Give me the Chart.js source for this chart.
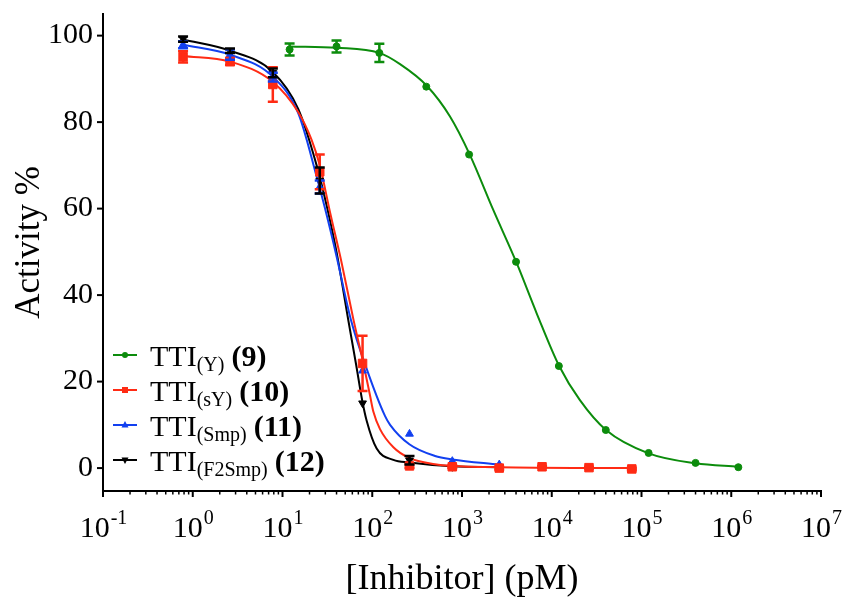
<!DOCTYPE html>
<html>
<head>
<meta charset="utf-8">
<script src="https://cdn.jsdelivr.net/npm/chart.js@4.4.1/dist/chart.umd.min.js"></script>
<style>
    html, body { margin: 0; padding: 0; background: #fff; }
    #wrap { width: 842px; height: 599px; position: relative; }
</style>
</head>
<body>
<div id="wrap"><canvas id="chart"></canvas></div>
<script>
// концентрации ингибитора, pM
const concA = [0.78, 2.6, 7.8, 26, 78, 260, 780, 2600, 7800, 26000, 78000];
const concY = [12, 40, 120, 400, 1200, 4000, 12000, 40000, 120000, 400000, 1200000];

// измеренная активность % и ошибка
const actY = [96.8, 97.5, 96.0, 88.2, 72.5, 47.7, 23.6, 8.8, 3.5, 1.2, 0.2];
const errY = [1.4, 1.4, 2.1, 0, 0, 0, 0, 0, 0, 0, 0];
const actSY = [95.1, 94.0, 88.7, 68.5, 24.2, 0.5, 0.3, 0.0, 0.3, 0.1, -0.2];
const errSY = [1.3, 0.8, 4.0, 4.0, 6.4, 0.4, 0.3, 0.3, 0.2, 0.2, 0.3];
const actSmp = [97.9, 95.6, 90.4, 65.0, 22.5, 7.9, 1.6, 0.8];
const errSmp = [0.8, 1.2, 1.0, 1.5, 0, 0, 0, 0];
const actF2 = [99.2, 96.5, 91.4, 66.5, 15.0, 1.8, 0.3, 0.2];
const errF2 = [0.6, 0.5, 1.0, 3.0, 0, 1.0, 0, 0];

// кривые аппроксимации
const fitYx = [12, 40, 120, 204, 410, 735, 1220, 2230, 4030, 6790, 12100, 20600, 40200, 120000, 400000, 1200000];
const fitYy = [97.5, 97.2, 96.0, 93.4, 88.3, 81.3, 72.5, 59.7, 47.6, 35.8, 23.6, 15.7, 8.8, 3.4, 1.1, 0.3];
const fitSYx = [0.78, 2.6, 7.8, 15, 21, 26, 34, 45, 61.5, 80, 94, 103, 122, 172, 260, 500, 780, 2600, 78000];
const fitSYy = [95.3, 94.0, 89.3, 82.3, 76, 70, 59, 48, 34.5, 24, 17, 13, 9, 4.8, 2.3, 0.9, 0.5, 0.2, 0.0];
const fitSmpx = [0.78, 2.6, 7.8, 15, 24, 29.8, 40, 57.5, 86.5, 139, 158, 259, 500, 780, 2600];
const fitSmpy = [97.9, 95.6, 90.5, 82, 67.4, 60, 49, 34.5, 23, 12, 10, 5.5, 2.8, 2.0, 0.8];
const fitF2x = [0.78, 2.6, 7.8, 15, 24, 31.6, 40, 54, 66, 77.5, 86.5, 112, 172, 259, 780, 2600];
const fitF2y = [99.1, 96.5, 91.6, 83, 70, 60, 50, 34.3, 24, 15.5, 11, 4.5, 1.9, 1.3, 0.4, 0.2];

// подписи
const legendMain = ['TTI', 'TTI', 'TTI', 'TTI'];
const legendSub = ['(Y)', '(sY)', '(Smp)', '(F2Smp)'];
const legendNum = ['(9)', '(10)', '(11)', '(12)'];
const xTickExp = [-1, 0, 1, 2, 3, 4, 5, 6, 7];
const yTicks = [0, 20, 40, 60, 80, 100];
const xTitle = '[Inhibitor] (pM)';
const yTitle = 'Activity %';

const colors = ['#0c8c0c', '#ff2b14', '#1240f0', '#000000'];
const SERIF = '"Liberation Serif", "Times New Roman", serif';

const pts = (xs, ys) => xs.map((x, i) => ({ x: x, y: ys[i] }));

function curve(xs, ys, color, order) {
    return {
        type: 'line', data: pts(xs, ys), borderColor: color, borderWidth: 2,
        pointRadius: 0, cubicInterpolationMode: 'monotone', fill: false, order: order
    };
}

function points(xs, ys, errs, color, style, radius, rotation, order) {
    return {
        type: 'scatter', data: pts(xs, ys), errors: errs, showLine: false,
        backgroundColor: color, borderColor: color, borderWidth: 1,
        pointStyle: style, pointRadius: radius, pointRotation: rotation, order: order
    };
}

// маркер для легенды
function drawMarker(ctx, i, x, y) {
    ctx.fillStyle = colors[i];
    ctx.beginPath();
    if (i === 0) {
        ctx.arc(x, y, 3, 0, Math.PI * 2);
    } else if (i === 1) {
        ctx.rect(x - 3, y - 3, 6, 6);
    } else if (i === 2) {
        ctx.moveTo(x, y - 4); ctx.lineTo(x + 3.5, y + 2.5); ctx.lineTo(x - 3.5, y + 2.5);
    } else {
        ctx.moveTo(x, y + 4); ctx.lineTo(x + 3.5, y - 2.5); ctx.lineTo(x - 3.5, y - 2.5);
    }
    ctx.closePath();
    ctx.fill();
}

const decor = {
    id: 'decor',
    afterDatasetsDraw(chart) {
        // планки погрешностей
        const ctx = chart.ctx, xs = chart.scales.x, ys = chart.scales.y;
        ctx.save();
        chart.data.datasets.forEach(ds => {
            if (!ds.errors) return;
            ctx.strokeStyle = ds.borderColor;
            ctx.lineWidth = 2.5;
            ds.data.forEach((p, i) => {
                const e = ds.errors[i];
                if (!e) return;
                const px = xs.getPixelForValue(p.x);
                const top = ys.getPixelForValue(p.y + e);
                const bot = ys.getPixelForValue(p.y - e);
                ctx.beginPath();
                ctx.moveTo(px, top); ctx.lineTo(px, bot);
                ctx.moveTo(px - 5, top); ctx.lineTo(px + 5, top);
                ctx.moveTo(px - 5, bot); ctx.lineTo(px + 5, bot);
                ctx.stroke();
            });
        });
        ctx.restore();
    },
    afterDraw(chart) {
        const ctx = chart.ctx, xs = chart.scales.x, ys = chart.scales.y;
        const area = chart.chartArea;
        ctx.save();
        ctx.strokeStyle = '#000';
        ctx.fillStyle = '#000';

        // деления оси X (логарифмические)
        const yAxis = area.bottom;
        for (let e = xTickExp[0]; e <= xTickExp[xTickExp.length - 1]; e++) {
            for (let k = 1; k <= 9; k++) {
                const v = k * Math.pow(10, e);
                if (v > xs.max * 1.0001) break;
                const px = xs.getPixelForValue(v);
                ctx.lineWidth = k === 1 ? 2 : 1.5;
                ctx.beginPath();
                ctx.moveTo(px, yAxis);
                ctx.lineTo(px, yAxis + (k === 1 ? 6 : 3.5));
                ctx.stroke();
            }
        }
        // подписи оси X: 10^n
        xTickExp.forEach(e => {
            const px = xs.getPixelForValue(Math.pow(10, e));
            ctx.font = '30px ' + SERIF;
            const wBase = ctx.measureText('10').width;
            ctx.font = '20px ' + SERIF;
            const wExp = ctx.measureText(String(e)).width;
            const x0 = px - (wBase + wExp) / 2;
            ctx.textAlign = 'left';
            ctx.textBaseline = 'alphabetic';
            ctx.font = '30px ' + SERIF;
            ctx.fillText('10', x0, 537);
            ctx.font = '20px ' + SERIF;
            ctx.fillText(String(e), x0 + wBase + 1, 524);
        });

        // деления и подписи оси Y
        ctx.lineWidth = 2;
        ctx.font = '30px ' + SERIF;
        ctx.textAlign = 'right';
        ctx.textBaseline = 'middle';
        yTicks.forEach(v => {
            const py = ys.getPixelForValue(v);
            ctx.beginPath();
            ctx.moveTo(area.left, py);
            ctx.lineTo(area.left - 6, py);
            ctx.stroke();
            ctx.fillText(String(v), area.left - 10, py);
        });

        // заголовки осей
        ctx.textAlign = 'center';
        ctx.textBaseline = 'alphabetic';
        ctx.font = '36px ' + SERIF;
        ctx.fillText(xTitle, (area.left + area.right) / 2, 589);
        ctx.save();
        ctx.translate(39, (area.top + area.bottom) / 2 - 10);
        ctx.rotate(-Math.PI / 2);
        ctx.font = '35px ' + SERIF;
        ctx.fillText(yTitle, 0, 0);
        ctx.restore();

        // легенда
        legendSub.forEach((sub, i) => {
            const cy = 355 + i * 35;
            ctx.strokeStyle = colors[i];
            ctx.lineWidth = 2;
            ctx.beginPath();
            ctx.moveTo(113, cy); ctx.lineTo(137, cy);
            ctx.stroke();
            drawMarker(ctx, i, 125, cy);

            ctx.fillStyle = '#000';
            ctx.textAlign = 'left';
            let x = 150;
            ctx.font = '30px ' + SERIF;
            ctx.fillText(legendMain[i], x, cy + 11);
            x += ctx.measureText(legendMain[i]).width;
            ctx.font = '20px ' + SERIF;
            ctx.fillText(sub, x, cy + 16);
            x += ctx.measureText(sub).width + 7;
            ctx.font = 'bold 30px ' + SERIF;
            ctx.fillText(legendNum[i], x, cy + 11);
        });
        ctx.restore();
    }
};

new Chart(document.getElementById('chart'), {
    type: 'scatter',
    data: {
        datasets: [
            points(concY, actY, errY, colors[0], 'circle', 3.5, 0, 1),
            points(concA, actSY, errSY, colors[1], 'rect', 6, 0, 1),
            points(concA.slice(0, 8), actSmp, errSmp, colors[2], 'triangle', 4.5, 0, 1),
            points(concA.slice(0, 8), actF2, errF2, colors[3], 'triangle', 4.5, 180, 1),
            curve(fitYx, fitYy, colors[0], 2),
            curve(fitSYx, fitSYy, colors[1], 2),
            curve(fitSmpx, fitSmpy, colors[2], 2),
            curve(fitF2x, fitF2y, colors[3], 2)
        ]
    },
    options: {
        responsive: true,
        maintainAspectRatio: false,
        animation: false,
        layout: { padding: { top: 14, right: 21, left: 0, bottom: 0 } },
        plugins: { legend: { display: false }, tooltip: { enabled: false } },
        scales: {
            x: {
                type: 'logarithmic', min: 0.1, max: 1e7,
                grid: { display: false },
                border: { display: true, color: '#000', width: 2 },
                ticks: { display: false },
                afterFit: s => { s.height = 108; }
            },
            y: {
                type: 'linear', min: -5.3, max: 105,
                grid: { display: false },
                border: { display: true, color: '#000', width: 2 },
                ticks: { display: false },
                afterFit: s => { s.width = 103; }
            }
        }
    },
    plugins: [decor]
});
</script>
</body>
</html>
